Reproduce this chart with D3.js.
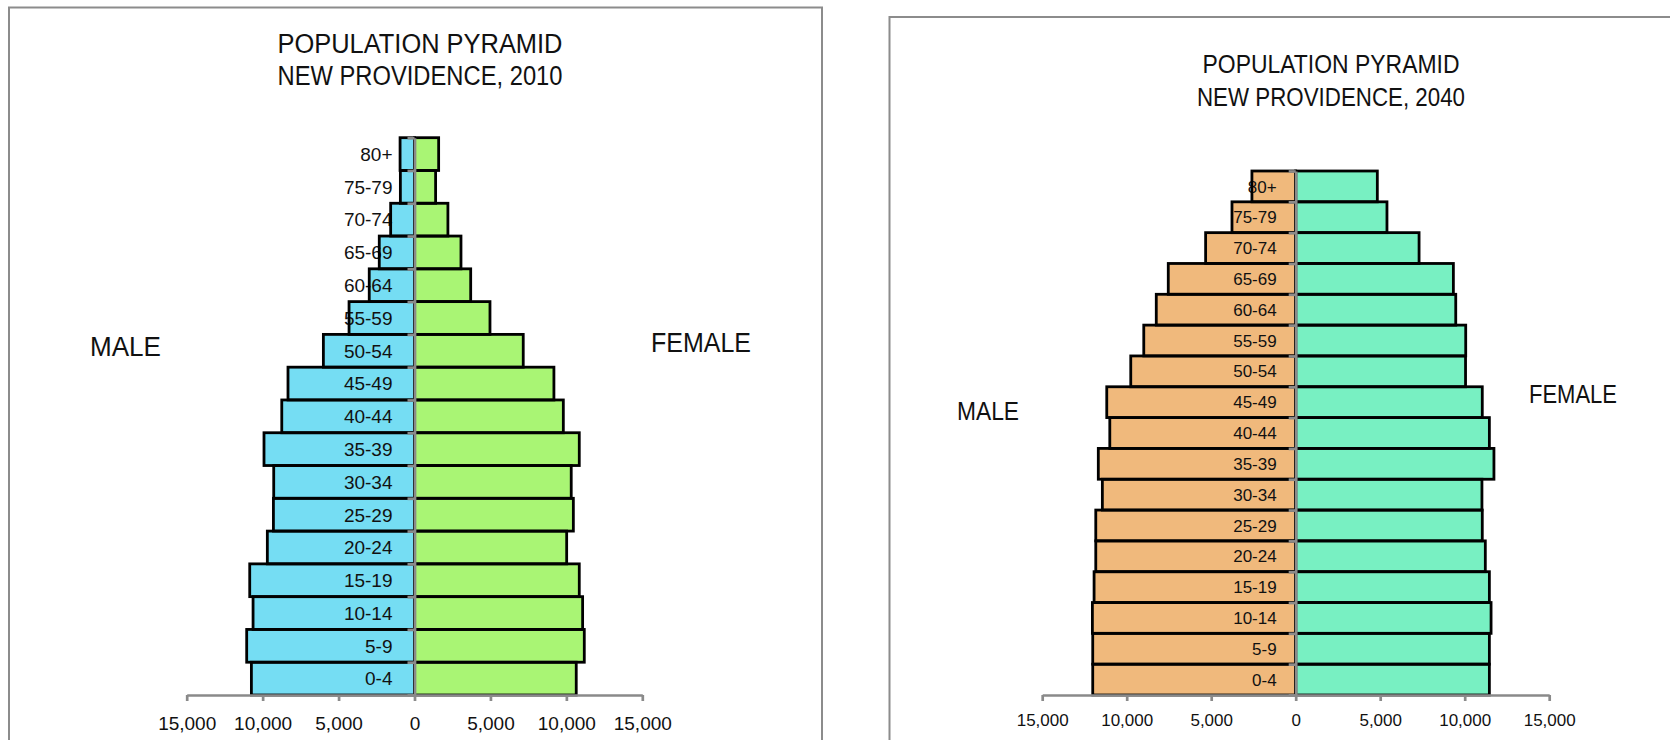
<!DOCTYPE html>
<html>
<head>
<meta charset="utf-8">
<script src="https://cdn.jsdelivr.net/npm/d3@7"></script>
<style>
  html, body { margin: 0; padding: 0; background: #fff; }
  svg { display: block; }
  text { font-family: "Liberation Sans", Arial, sans-serif; fill: #111; }
</style>
</head>
<body>
<svg id="chart" width="1670" height="740"></svg>
<script>
// ---------------- DATA ----------------
const ageGroups = ["0-4","5-9","10-14","15-19","20-24","25-29","30-34","35-39","40-44","45-49","50-54","55-59","60-64","65-69","70-74","75-79","80+"];

const male2010   = [10740, 11050, 10630, 10850, 9690, 9290, 9270, 9910, 8740, 8330, 6000, 4310, 2980, 2320, 1570, 930, 950];
const female2010 = [10650, 11180, 11070, 10850, 10020, 10460, 10320, 10850, 9800, 9180, 7160, 4970, 3700, 3060, 2200, 1390, 1590];

const male2040   = [12010, 12010, 12030, 11930, 11830, 11830, 11440, 11680, 11000, 11180, 9760, 8990, 8250, 7540, 5330, 3770, 2590];
const female2040 = [11460, 11460, 11560, 11460, 11220, 11040, 11020, 11730, 11460, 11040, 10050, 10060, 9470, 9330, 7300, 5400, 4830];

const tickValues = [-15000, -10000, -5000, 0, 5000, 10000, 15000];

const titles2010 = ["POPULATION PYRAMID", "NEW PROVIDENCE, 2010"];
const titles2040 = ["POPULATION PYRAMID", "NEW PROVIDENCE, 2040"];
const sideLabels = ["MALE", "FEMALE"];

// ---------------- DRAW ----------------
const svg = d3.select("#chart");

function drawPyramid(opt) {
  const g = svg.append("g");

  // frame
  g.append("rect")
    .attr("x", opt.frame[0]).attr("y", opt.frame[1])
    .attr("width", opt.frame[2]).attr("height", opt.frame[3])
    .attr("fill", "#fff").attr("stroke", "#8c8c8c").attr("stroke-width", 2);

  const x = d3.scaleLinear().domain([-15000, 15000]).range(opt.xRange);
  const y = d3.scaleBand().domain(ageGroups.slice().reverse()).range(opt.yRange).padding(0);
  const yIdx = d3.scaleLinear().domain([0, ageGroups.length]).range([opt.yRange[1], opt.yRange[0]]);

  const rows = ageGroups.map((a, i) => ({ age: a, m: opt.male[i], f: opt.female[i] }));

  // titles
  opt.titles.forEach((t, i) => {
    g.append("text")
      .attr("x", opt.titleX).attr("y", opt.titleY[i])
      .attr("text-anchor", "middle")
      .attr("font-size", opt.titleSize)
      .attr("textLength", opt.titleLen[i])
      .attr("lengthAdjust", "spacingAndGlyphs")
      .text(t);
  });

  // side labels
  sideLabels.forEach((t, i) => {
    g.append("text")
      .attr("x", opt.sideX[i]).attr("y", opt.sideY[i])
      .attr("text-anchor", "middle")
      .attr("font-size", opt.sideSize)
      .attr("textLength", opt.sideLen[i])
      .attr("lengthAdjust", "spacingAndGlyphs")
      .text(t);
  });

  // bar fills
  const fills = g.append("g");
  fills.selectAll("rect.m").data(rows).join("rect")
    .attr("x", d => x(-d.m)).attr("width", d => x(0) - x(-d.m))
    .attr("y", d => y(d.age)).attr("height", y.bandwidth())
    .attr("fill", opt.maleColor);
  fills.selectAll("rect.f").data(rows).join("rect")
    .attr("x", x(0)).attr("width", d => x(d.f) - x(0))
    .attr("y", d => y(d.age)).attr("height", y.bandwidth())
    .attr("fill", opt.femaleColor);

  // category labels
  g.append("g").selectAll("text").data(rows).join("text")
    .attr("x", x(0) - opt.labelOffset)
    .attr("y", d => y(d.age) + y.bandwidth() / 2)
    .attr("dy", "0.36em")
    .attr("text-anchor", "end")
    .attr("font-size", opt.labelSize)
    .text(d => d.age);

  // bar outlines
  const outl = g.append("g").attr("fill", "none").attr("stroke", "#000").attr("stroke-width", 2.8);
  outl.selectAll("rect.m").data(rows).join("rect")
    .attr("x", d => x(-d.m)).attr("width", d => x(0) - x(-d.m))
    .attr("y", d => y(d.age)).attr("height", y.bandwidth());
  outl.selectAll("rect.f").data(rows).join("rect")
    .attr("x", x(0)).attr("width", d => x(d.f) - x(0))
    .attr("y", d => y(d.age)).attr("height", y.bandwidth());

  // vertical category axis (ticks at band boundaries)
  const vAxis = g.append("g")
    .attr("transform", `translate(${x(0)},0)`)
    .call(d3.axisLeft(yIdx).tickValues(d3.range(0, ageGroups.length + 1)).tickSize(7).tickSizeOuter(0).tickFormat(""));
  vAxis.select(".domain").attr("stroke", "#8a8a8a").attr("stroke-width", 2.7);
  vAxis.selectAll(".tick line").attr("stroke", "#8a8a8a").attr("stroke-width", 2.7);

  // horizontal value axis
  const xAxis = g.append("g")
    .attr("transform", `translate(0,${opt.yRange[1]})`)
    .call(d3.axisBottom(x).tickValues(tickValues).tickSize(6).tickSizeOuter(0)
      .tickFormat(d => d3.format(",")(Math.abs(d))));
  xAxis.select(".domain").attr("stroke", "#8a8a8a").attr("stroke-width", 2.7);
  xAxis.selectAll(".tick line").attr("stroke", "#8a8a8a").attr("stroke-width", 2.7);
  xAxis.selectAll(".tick text")
    .attr("y", opt.tickTextY).attr("dy", "0.36em")
    .attr("font-size", opt.labelSize)
    .attr("font-family", '"Liberation Sans", Arial, sans-serif')
    .attr("fill", "#111");
}

drawPyramid({
  frame: [9, 7.5, 813, 760],
  xRange: [186.7, 642.3],
  yRange: [137.7, 695],
  male: male2010, female: female2010,
  maleColor: "#75ddf3", femaleColor: "#a9f574",
  titles: titles2010, titleX: 420, titleY: [53, 85], titleSize: 27, titleLen: [285, 285],
  sideX: [125.5, 701], sideY: [356, 352], sideSize: 28, sideLen: [71, 100],
  labelOffset: 22, labelSize: 19, tickTextY: 28
});

drawPyramid({
  frame: [889.5, 17, 820, 760],
  xRange: [1042.2, 1549.2],
  yRange: [171, 695],
  male: male2040, female: female2040,
  maleColor: "#f0b97c", femaleColor: "#78f0c2",
  titles: titles2040, titleX: 1331, titleY: [73, 106], titleSize: 26, titleLen: [257, 268],
  sideX: [988, 1573], sideY: [420, 403], sideSize: 26, sideLen: [62, 88],
  labelOffset: 19, labelSize: 17, tickTextY: 25
});
</script>
</body>
</html>
